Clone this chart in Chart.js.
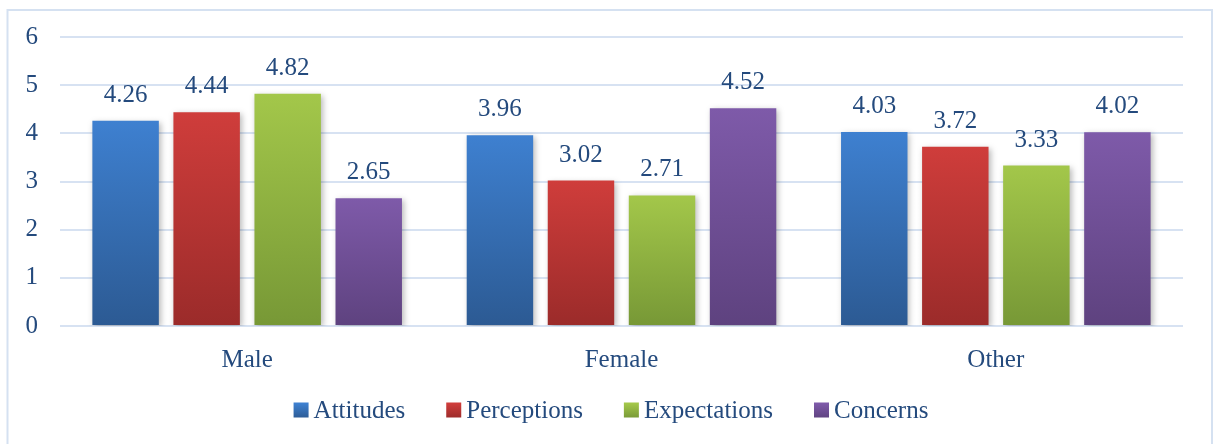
<!DOCTYPE html>
<html>
<head>
<meta charset="utf-8">
<script src="https://cdn.jsdelivr.net/npm/chart.js@4.4.1/dist/chart.umd.min.js"></script>
<style>
  html, body { margin: 0; padding: 0; background: #ffffff; }
  #wrap { width: 1214px; height: 444px; position: relative; }
</style>
</head>
<body>
<div id="wrap"><canvas id="c" width="1214" height="444"></canvas></div>
<script>
const categories = ["Male", "Female", "Other"];
const seriesNames = ["Attitudes", "Perceptions", "Expectations", "Concerns"];
const attitudes    = [4.26, 3.96, 4.03];
const perceptions  = [4.44, 3.02, 3.72];
const expectations = [4.82, 2.71, 3.33];
const concerns     = [2.65, 4.52, 4.02];
const yTicks = [0, 1, 2, 3, 4, 5, 6];

const palette = [
  { top: "#3e80d0", bottom: "#2c5a93", mid: "#3570b8" },
  { top: "#cf3d3b", bottom: "#9b2b2a", mid: "#bb3533" },
  { top: "#a3c74a", bottom: "#779836", mid: "#8fb240" },
  { top: "#7e5aa9", bottom: "#5e427f", mid: "#6f4f96" }
];
const textColor = "#244a7d";
const fontFamily = "'Liberation Serif', 'Times New Roman', serif";

Chart.defaults.font.family = fontFamily;
Chart.defaults.font.size = 25;
Chart.defaults.color = textColor;

function gradientFor(idx) {
  return function (c) {
    const chart = c.chart;
    const area = chart.chartArea;
    if (!area || c.type !== "data" || !chart.scales.y) return palette[idx].mid;
    const y = chart.scales.y.getPixelForValue(c.raw);
    const base = chart.scales.y.getPixelForValue(0);
    const g = chart.ctx.createLinearGradient(0, y, 0, base);
    g.addColorStop(0, palette[idx].top);
    g.addColorStop(1, palette[idx].bottom);
    return g;
  };
}

const seriesData = [attitudes, perceptions, expectations, concerns];
const datasets = seriesNames.map((name, i) => ({
  label: name,
  data: seriesData[i],
  backgroundColor: gradientFor(i),
  borderWidth: 0,
  categoryPercentage: 0.866,
  barPercentage: 0.82
}));

const framePlugin = {
  id: "frame",
  beforeDraw(chart) {
    const ctx = chart.ctx;
    ctx.save();
    ctx.fillStyle = "#ffffff";
    ctx.fillRect(0, 0, chart.width, chart.height);
    ctx.strokeStyle = "#d5e1f1";
    ctx.lineWidth = 2;
    ctx.strokeRect(7.5, 10, 1204.5, 600);
    ctx.restore();
  }
};

const shadowLabelPlugin = {
  id: "shadowLabels",
  beforeDatasetsDraw(chart) {
    const ctx = chart.ctx;
    ctx.save();
    ctx.shadowColor = "rgba(0,0,0,0.28)";
    ctx.shadowBlur = 6;
    ctx.shadowOffsetX = 2;
    ctx.shadowOffsetY = 2;
  },
  afterDatasetsDraw(chart) {
    const ctx = chart.ctx;
    ctx.restore();
    ctx.save();
    ctx.font = "25px " + fontFamily;
    ctx.fillStyle = textColor;
    ctx.textAlign = "center";
    ctx.textBaseline = "alphabetic";
    chart.data.datasets.forEach((ds, i) => {
      chart.getDatasetMeta(i).data.forEach((bar, j) => {
        ctx.fillText(ds.data[j].toFixed(2), bar.x, bar.y - 19);
      });
    });
    ctx.restore();
  }
};

// Legend drawn under the x axis, with a narrow box-to-text gap as in the reference
const legendPlugin = {
  id: "customLegend",
  afterDraw(chart) {
    const ctx = chart.ctx;
    const box = 15, gapText = 5, gapItem = 41;
    const centerX = 611, centerY = 411;
    ctx.save();
    ctx.font = "25px " + fontFamily;
    const widths = chart.data.datasets.map(ds => ctx.measureText(ds.label).width);
    let total = 0;
    widths.forEach((w, i) => { total += box + gapText + w + (i < widths.length - 1 ? gapItem : 0); });
    let x = centerX - total / 2;
    ctx.textBaseline = "middle";
    ctx.textAlign = "left";
    chart.data.datasets.forEach((ds, i) => {
      const g = ctx.createLinearGradient(0, centerY - box / 2, 0, centerY + box / 2);
      g.addColorStop(0, palette[i].top);
      g.addColorStop(1, palette[i].bottom);
      ctx.fillStyle = g;
      ctx.fillRect(x, centerY - box / 2 - 1, box, box);
      ctx.fillStyle = textColor;
      ctx.fillText(ds.label, x + box + gapText, centerY);
      x += box + gapText + widths[i] + gapItem;
    });
    ctx.restore();
  }
};

new Chart(document.getElementById("c"), {
  type: "bar",
  data: { labels: categories, datasets: datasets },
  options: {
    responsive: false,
    animation: false,
    layout: { padding: { left: 8, right: 31, top: 33, bottom: 72 } },
    plugins: {
      tooltip: { enabled: false },
      legend: { display: false }
    },
    scales: {
      x: {
        clip: false,
        grid: { display: false },
        border: { display: false },
        ticks: { padding: 11, color: textColor },
        afterFit(scale) { scale.height = 46; }
      },
      y: {
        clip: false,
        min: 0,
        max: 6,
        afterBuildTicks(scale) { scale.ticks = yTicks.map(v => ({ value: v })); },
        grid: { color: "#d7e2f2", lineWidth: 2, drawTicks: false },
        border: { display: false },
        ticks: { padding: 22, color: textColor },
        afterFit(scale) { scale.width = 52; }
      }
    }
  },
  plugins: [framePlugin, shadowLabelPlugin, legendPlugin]
});
</script>
</body>
</html>
